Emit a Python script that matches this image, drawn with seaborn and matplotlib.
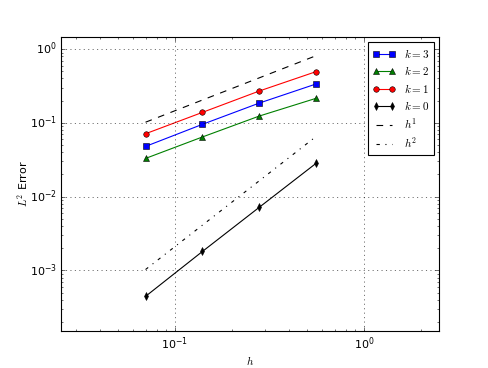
import numpy as np
import matplotlib
matplotlib.use("Agg")
import matplotlib.pyplot as plt
import seaborn as sns

# mesh sizes and L2 errors per polynomial degree
h = [0.07, 0.14, 0.28, 0.56]
err_k3 = [0.048, 0.0957, 0.186, 0.338]
err_k2 = [0.033, 0.0645, 0.124, 0.216]
err_k1 = [0.0713, 0.139, 0.271, 0.497]
err_k0 = [4.45e-4, 1.81e-3, 7.2e-3, 0.0285]

# reference slopes
c1 = 1.46
c2 = 0.21

plt.style.use('classic')
plt.rcParams['figure.facecolor'] = 'white'
plt.rcParams['savefig.facecolor'] = 'white'
plt.rcParams['font.size'] = 10

fig, ax = plt.subplots(figsize=(6.1, 4.6), dpi=80)

hh = np.array(h)
sns.lineplot(x=h, y=err_k3, ax=ax, color='b', marker='s', markersize=5,
             mec='k', mew=0.5, label='$k=3$')
sns.lineplot(x=h, y=err_k2, ax=ax, color='g', marker='^', markersize=5,
             mec='k', mew=0.5, label='$k=2$')
sns.lineplot(x=h, y=err_k1, ax=ax, color='r', marker='o', markersize=5,
             mec='k', mew=0.5, label='$k=1$')
sns.lineplot(x=h, y=err_k0, ax=ax, color='k', marker='d', markersize=5,
             mec='k', mew=0.5, label='$k=0$')
sns.lineplot(x=h, y=c1 * hh, ax=ax, color='k', linestyle='--', label='$h^1$')
sns.lineplot(x=h, y=c2 * hh ** 2, ax=ax, color='k', linestyle='-.', label='$h^2$')

ax.set_xscale('log')
ax.set_yscale('log')
ax.set_xlim(0.025, 2.5)
ax.set_ylim(1.5e-4, 1.47)
ax.grid(True, which='major')
ax.tick_params(axis='x', which='major', pad=4)
ax.set_xlabel('$h$', labelpad=2)
ax.set_ylabel('$L^2$ Error', labelpad=0)
ax.legend(loc='upper right', numpoints=2, fancybox=False, fontsize=10,
          handlelength=2.0, labelspacing=0.4)

fig.savefig('out.png', dpi=80)
